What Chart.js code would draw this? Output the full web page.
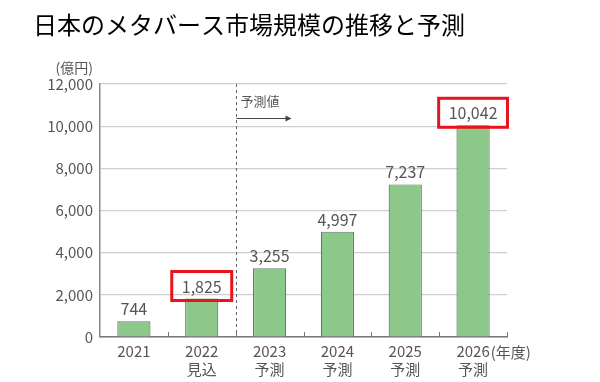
<!DOCTYPE html>
<html>
<head>
<meta charset="utf-8">
<script src="https://cdn.jsdelivr.net/npm/chart.js@4"></script>
<style>
  html, body { margin: 0; padding: 0; background: #fff; }
  #wrap { width: 600px; height: 382px; position: relative; }
</style>
</head>
<body>
<div id="wrap"><canvas id="grafico"></canvas></div>
<script>
// dati
const titolo = '日本のメタバース市場規模の推移と予測';
const anni = ['2021', '2022', '2023', '2024', '2025', '2026'];
const sottoEtichette = ['', '見込', '予測', '予測', '予測', '予測'];
const valori = [744, 1825, 3255, 4997, 7237, 10042];
const evidenziati = [1, 5]; // indici con riquadro rosso
const unitaY = '(億円)';
const unitaX = '(年度)';
const testoPrevisione = '予測値';
const yMax = 12000;
const yPasso = 2000;

const FONT = '"Noto Sans CJK JP", "Noto Sans", sans-serif';
const GRIGIO = '#555';

const fmt = v => v.toLocaleString('en-US');

const annotazioni = {
  id: 'annotazioni',
  afterDatasetsDraw(chart) {
    const ctx = chart.ctx;
    const area = chart.chartArea;
    const x = chart.scales.x;
    const meta = chart.getDatasetMeta(0);
    const passo = x.getPixelForValue(1) - x.getPixelForValue(0);
    ctx.save();

    // titolo
    ctx.fillStyle = '#000';
    ctx.font = '24px ' + FONT;
    ctx.textBaseline = 'middle';
    ctx.textAlign = 'left';
    ctx.fillText(titolo, 33, 25);

    // unita asse y
    ctx.fillStyle = GRIGIO;
    ctx.font = '14px ' + FONT;
    ctx.textAlign = 'right';
    ctx.fillText(unitaY, area.left - 7, area.top - 16);

    // tacche asse x verso l'alto
    ctx.strokeStyle = '#777';
    ctx.lineWidth = 1;
    for (let i = 0; i < anni.length; i++) {
      const px = Math.round(x.getPixelForValue(i) + passo / 2) + 0.5;
      ctx.beginPath();
      ctx.moveTo(px, area.bottom);
      ctx.lineTo(px, area.bottom - 5);
      ctx.stroke();
    }

    // linea tratteggiata previsione
    const xDiv = Math.round(x.getPixelForValue(1) + passo / 2) + 0.5;
    ctx.setLineDash([3, 3]);
    ctx.strokeStyle = '#666';
    ctx.beginPath();
    ctx.moveTo(xDiv, area.top);
    ctx.lineTo(xDiv, area.bottom);
    ctx.stroke();
    ctx.setLineDash([]);

    ctx.fillStyle = GRIGIO;
    ctx.font = '13px ' + FONT;
    ctx.textAlign = 'left';
    ctx.fillText(testoPrevisione, xDiv + 4, area.top + 17);

    // freccia
    ctx.strokeStyle = '#444';
    ctx.beginPath();
    ctx.moveTo(xDiv, area.top + 34.5);
    ctx.lineTo(xDiv + 52, area.top + 34.5);
    ctx.stroke();
    ctx.fillStyle = '#444';
    ctx.beginPath();
    ctx.moveTo(xDiv + 55, area.top + 34.5);
    ctx.lineTo(xDiv + 49, area.top + 31.5);
    ctx.lineTo(xDiv + 49, area.top + 37.5);
    ctx.closePath();
    ctx.fill();

    // etichette valori e riquadri
    ctx.font = '16px ' + FONT;
    ctx.textAlign = 'center';
    ctx.textBaseline = 'alphabetic';
    meta.data.forEach((bar, i) => {
      const t = fmt(valori[i]);
      ctx.fillStyle = GRIGIO;
      ctx.fillText(t, bar.x, bar.y - 6);
      if (evidenziati.includes(i)) {
        const w = ctx.measureText(t).width + 20;
        ctx.strokeStyle = '#e8141b';
        ctx.lineWidth = 3;
        ctx.strokeRect(bar.x - w / 2, bar.y - 27, w, 29);
      }
    });

    // (年度) accanto all'ultimo anno
    ctx.font = '15px ' + FONT;
    ctx.fillStyle = GRIGIO;
    ctx.textAlign = 'left';
    ctx.textBaseline = 'middle';
    const ultimo = x.getPixelForValue(anni.length - 1);
    const wAnno = ctx.measureText(anni[anni.length - 1]).width;
    ctx.fillText(unitaX, ultimo + wAnno / 2 + 1, area.bottom + 15);

    ctx.restore();
  }
};

const etichette = anni.map((a, i) => sottoEtichette[i] ? [a, sottoEtichette[i]] : [a]);

new Chart(document.getElementById('grafico'), {
  type: 'bar',
  data: {
    labels: etichette,
    datasets: [{
      data: valori,
      backgroundColor: '#8cc88a',
      borderColor: '#5e7e5e',
      borderWidth: 1.2,
      categoryPercentage: 1,
      barPercentage: 0.49
    }]
  },
  options: {
    responsive: true,
    maintainAspectRatio: false,
    animation: false,
    layout: { padding: { left: 0, top: 84, right: 93, bottom: 0 } },
    plugins: { legend: { display: false }, tooltip: { enabled: false } },
    scales: {
      x: {
        afterFit: s => { s.height = 45; },
        grid: { display: false, drawTicks: false },
        border: { color: '#777', width: 1.5 },
        ticks: {
          color: GRIGIO,
          padding: 6,
          maxRotation: 0,
          font: { family: FONT, size: 15, lineHeight: 1.15 }
        }
      },
      y: {
        min: 0,
        max: yMax,
        afterFit: s => { s.width = 100; },
        grid: { color: '#cfcfcf', lineWidth: 1.2, drawTicks: false },
        border: { color: '#888', width: 1.5 },
        ticks: {
          stepSize: yPasso,
          color: GRIGIO,
          padding: 7,
          font: { family: FONT, size: 15 },
          callback: v => fmt(v)
        }
      }
    }
  },
  plugins: [annotazioni]
});
</script>
</body>
</html>
